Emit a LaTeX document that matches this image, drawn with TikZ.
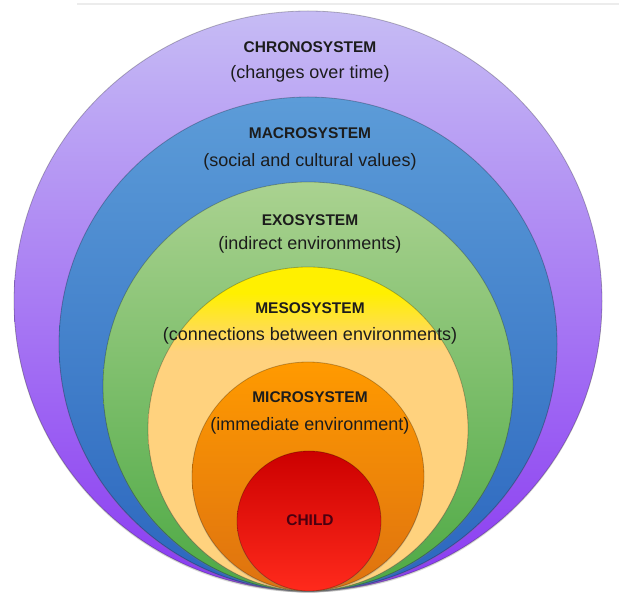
\documentclass[tikz,border=0pt]{standalone}
\usepackage{fontspec}
\setsansfont{Liberation Sans}
\usetikzlibrary{shadows}
\definecolor{chronotop}{HTML}{C6BCF4}
\definecolor{chronobot}{HTML}{8A3AF2}
\definecolor{macrotop}{HTML}{5C9CD8}
\definecolor{macrobot}{HTML}{2B66BE}
\definecolor{exotop}{HTML}{AAD290}
\definecolor{exobot}{HTML}{4DA944}
\definecolor{mesotop}{HTML}{FFF000}
\definecolor{mesobot}{HTML}{FFD27E}
\definecolor{microtop}{HTML}{FF9A00}
\definecolor{microbot}{HTML}{DE7210}
\definecolor{childtop}{HTML}{CC0000}
\definecolor{childbot}{HTML}{FF2A1C}
\definecolor{ctext}{HTML}{1C1C1C}
\definecolor{cchild}{HTML}{4A0010}
\pgfdeclareverticalshading{mesoshade}{100bp}{color(0bp)=(mesobot); color(25bp)=(mesobot); color(62bp)=(mesobot); color(71bp)=(mesotop); color(75bp)=(mesotop); color(100bp)=(mesotop)}
\tikzset{
  every picture/.style={font=\sffamily},
  layer/.style={draw=black, draw opacity=0.25, line width=0.8pt,
    drop shadow={opacity=0.3, shadow xshift=0pt, shadow yshift=-1.5pt}},
  title/.style={font=\sffamily\bfseries\fontsize{15.5}{18}\selectfont, text=ctext},
  sub/.style={font=\sffamily\fontsize{18}{21}\selectfont, text=ctext},
}

\begin{document}
\begin{tikzpicture}[x=1pt, y=1pt]
  \useasboundingbox (0,0) rectangle (619,600);
  \draw[gray!15, line width=1.5pt] (77,596) -- (619,596);
  % nested systems, all touching at the bottom
  \path[layer, top color=chronotop, bottom color=chronobot] (308,299) ellipse (294 and 290);
  \path[layer, top color=macrotop, bottom color=macrobot] (308,256) ellipse (249 and 247);
  \path[layer, top color=exotop, bottom color=exobot] (308,213.5) ellipse (205 and 204.5);
  \path[layer, shading=mesoshade] (308,171) ellipse (160 and 162);
  \path[layer, top color=microtop, bottom color=microbot] (308,123.5) ellipse (116 and 114.5);
  \path[layer, top color=childtop, bottom color=childbot] (309,79) ellipse (72 and 70);
  % labels
  \node[title] (chrono) at (310,553) {CHRONOSYSTEM};
  \node[sub] (chronosub) at (310,526) {(changes over time)};
  \node[title] (macro) at (310,467) {MACROSYSTEM};
  \node[sub] (macrosub) at (310,438) {(social and cultural values)};
  \node[title] (exo) at (310,380) {EXOSYSTEM};
  \node[sub] (exosub) at (310,355) {(indirect environments)};
  \node[title] (meso) at (310,292) {MESOSYSTEM};
  \node[sub] (mesosub) at (310,264) {(connections between environments)};
  \node[title] (micro) at (310,203) {MICROSYSTEM};
  \node[sub] (microsub) at (310,174) {(immediate environment)};
  \node[title, text=cchild] (child) at (310,80) {CHILD};
\end{tikzpicture}
\end{document}
